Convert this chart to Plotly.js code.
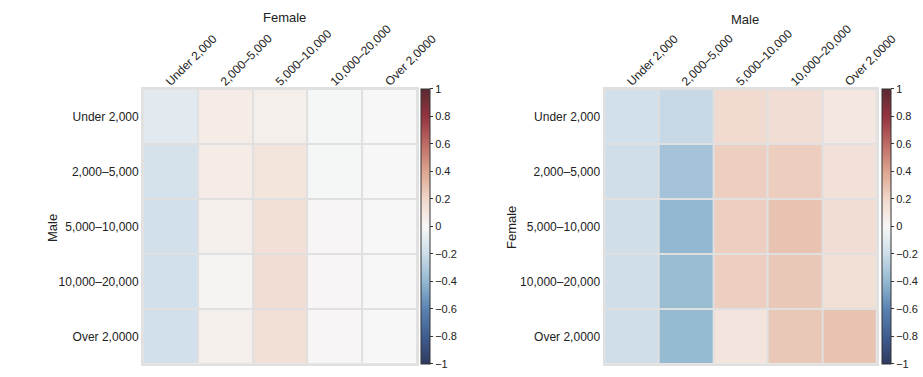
<!DOCTYPE html>
<html>
<head>
<meta charset="utf-8">
<script src="https://cdn.plot.ly/plotly-3.0.1.min.js"></script>
<style>html,body{margin:0;padding:0;background:#fff}#chart{width:923px;height:377px}</style>
</head>
<body>
<div id="chart"></div>
<script>
const categories = ["Under 2,000", "2,000–5,000", "5,000–10,000", "10,000–20,000", "Over 2,0000"];

// Left: rows = Male, columns = Female
const leftValues = [
  [-0.10, 0.07, 0.05, -0.01, 0.00],
  [-0.16, 0.07, 0.12, -0.01, 0.00],
  [-0.18, 0.05, 0.15, 0.01, 0.00],
  [-0.18, 0.02, 0.16, 0.01, 0.00],
  [-0.18, 0.05, 0.15, 0.01, 0.00]
];
// Right: rows = Female, columns = Male
const rightValues = [
  [-0.18, -0.22, 0.18, 0.16, 0.10],
  [-0.19, -0.34, 0.23, 0.24, 0.14],
  [-0.19, -0.40, 0.23, 0.28, 0.16],
  [-0.19, -0.38, 0.23, 0.26, 0.15],
  [-0.19, -0.39, 0.11, 0.26, 0.28]
];
const colorbarTicks = [-1, -0.8, -0.6, -0.4, -0.2, 0, 0.2, 0.4, 0.6, 0.8, 1];

const cs = [
  [0.0, "#2e3a5f"],
  [0.1, "#3f5d90"],
  [0.2, "#5a83b2"],
  [0.3, "#93b8d1"],
  [0.4, "#cddde8"],
  [0.5, "#f7f7f7"],
  [0.6, "#f0d7ca"],
  [0.7, "#dca58f"],
  [0.8, "#bd6b66"],
  [0.9, "#93343f"],
  [1.0, "#5a2a31"]
];

const font = {family: "Liberation Sans, Arial, sans-serif", size: 12, color: "#222"};
const yDom = [0.035, 0.764];

function cb(x) {
  return {
    x: x, xanchor: "left", xpad: 0, ypad: 0,
    y: (yDom[0] + yDom[1]) / 2, yanchor: "middle",
    len: yDom[1] - yDom[0], lenmode: "fraction",
    thickness: 9, outlinewidth: 1, outlinecolor: "#333",
    tickvals: colorbarTicks, ticks: "outside", ticklen: 3, tickcolor: "#333",
    tickfont: {family: font.family, size: 11, color: "#222"}
  };
}

const traces = [
  {
    type: "heatmap", z: leftValues, x: categories, y: categories,
    xaxis: "x", yaxis: "y", zmin: -1, zmax: 1, colorscale: cs,
    xgap: 2, ygap: 2, colorbar: cb(0.456)
  },
  {
    type: "heatmap", z: rightValues, x: categories, y: categories,
    xaxis: "x2", yaxis: "y2", zmin: -1, zmax: 1, colorscale: cs,
    xgap: 2, ygap: 2, colorbar: cb(0.956)
  }
];

function xa(dom, anchor) {
  return {domain: dom, anchor: anchor, side: "top", tickangle: -45, type: "category",
    showgrid: false, zeroline: false, ticks: "", tickfont: font, automargin: false,
    ticklabelstandoff: -6, ticklabelshift: -4,
    showline: true, mirror: true, linecolor: "#e0e0e0", linewidth: 2};
}
function ya(anchor) {
  return {domain: yDom, anchor: anchor, autorange: "reversed", type: "category",
    showgrid: false, zeroline: false, ticks: "", tickfont: font, automargin: false,
    ticklabelstandoff: 0,
    showline: true, mirror: true, linecolor: "#e0e0e0", linewidth: 2};
}

const ann = (text, x, y, rot) => ({text: text, x: x / 923, y: 1 - y / 377, xref: "paper", yref: "paper",
  xanchor: "center", yanchor: "middle", showarrow: false, textangle: rot,
  font: {family: font.family, size: 13, color: "#222"}});

const layout = {
  width: 923, height: 377,
  margin: {l: 0, r: 0, t: 0, b: 0},
  paper_bgcolor: "#fff", plot_bgcolor: "#e0e0e0",
  showlegend: false,
  font: font,
  xaxis: xa([0.155, 0.452], "y"),
  yaxis: ya("x"),
  xaxis2: xa([0.655, 0.950], "y2"),
  yaxis2: ya("x2"),
  annotations: [
    ann("Female", 284, 18, 0),
    ann("Male", 53, 228, -90),
    ann("Male", 745, 19, 0),
    ann("Female", 512, 228, -90)
  ]
};

Plotly.newPlot("chart", traces, layout, {displayModeBar: false, staticPlot: true});
</script>
</body>
</html>
